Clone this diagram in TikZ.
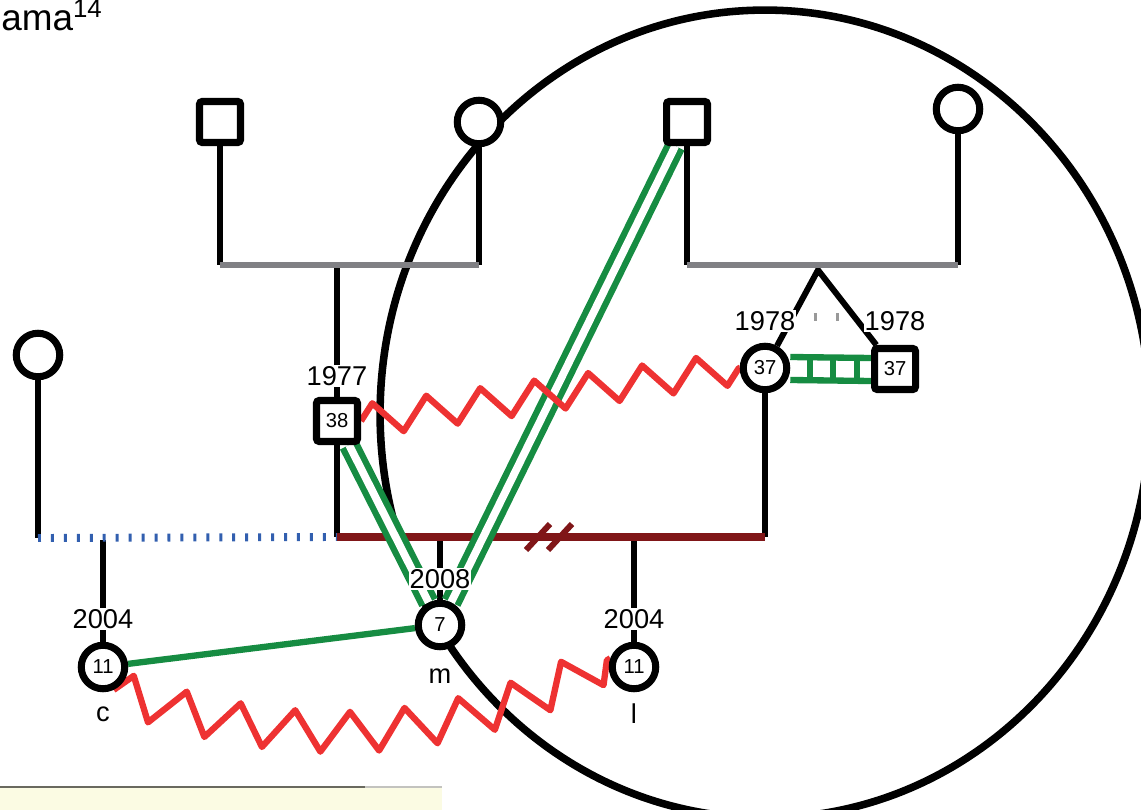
\documentclass[tikz,border=0pt]{standalone}
\usepackage{fontspec}
\setmainfont{Liberation Sans}
\usetikzlibrary{decorations.pathmorphing,calc,backgrounds}
\definecolor{sibgray}{RGB}{128,128,132}
\definecolor{mzgreen}{RGB}{22,140,66}
\definecolor{confred}{RGB}{238,50,50}
\definecolor{unionred}{RGB}{128,22,24}
\definecolor{sepblue}{RGB}{50,95,175}
\definecolor{notebg}{RGB}{251,251,227}
\definecolor{noteline}{RGB}{105,105,95}
\newcommand{\yrfont}{\fontsize{15.5}{17}\selectfont}
\newcommand{\agefont}{\fontsize{11.5}{12}\selectfont}
\tikzset{
  male/.style={draw,line width=4pt,fill=white,minimum size=0.82cm,inner sep=0pt,rounded corners=1.5pt,font=\agefont},
  female/.style={circle,draw,line width=4pt,fill=white,minimum size=0.87cm,inner sep=0pt,font=\agefont},
  yr/.style={fill=white,inner sep=0.5pt,font=\yrfont},
  lbl/.style={inner sep=0pt,font=\yrfont},
  kin/.style={line width=3.4pt},
  sibline/.style={line width=3.6pt,sibgray},
  marline/.style={line width=4pt,unionred},
  friend/.style={line width=3.6pt,mzgreen},
  closeline/.style={friend,double=white,double distance=4.4pt},
  hostile/.style 2 args={line width=3.6pt,confred,line join=round,decorate,decoration={zigzag,amplitude=#1,segment length=#2}},
  sepdots/.style={line width=4.5pt,sepblue,dash pattern=on 1.7pt off 5.67pt},
  twinmark/.style={line width=4.5pt,gray!80,dash pattern=on 1.7pt off 11.3pt}
}
\begin{document}
\begin{tikzpicture}[x=0.02cm,y=-0.02cm]
\useasboundingbox (0,0) rectangle (1141,810);
\clip (0,0) rectangle (1141,810);
% grandparents
\node[male] (pgf) at (220,122) {};
\node[female] (pgm) at (479,122) {};
\node[male] (mgf) at (687,122) {};
\node[female] (mgm) at (958,109) {};
\node[female] (exw) at (38,355) {};
% parents and twin
\node[male] (fa) at (337,421) {38};
\node[female] (mo) at (765,368) {37};
\node[male] (tw) at (895,369) {37};
% children
\node[female] (kc) at (103,667) {11};
\node[female] (km) at (440,625) {7};
\node[female] (kl) at (634,667) {11};
% years and names
\node[yr] (yfa) at (337,376) {1977};
\node[yr] (ymo) at (765,321) {1978};
\node[yr] (ytw) at (895,321) {1978};
\node[yr] (ykc) at (103,619) {2004};
\node[yr] (ykm) at (440,579) {2008};
\node[yr] (ykl) at (634,619) {2004};
\node[lbl] (nc) at (103,714) {c};
\node[lbl] (nm) at (440,676) {m};
\node[lbl] (nl) at (634,714) {l};
\node[anchor=base west,inner sep=0pt,font=\fontsize{21}{22}\selectfont] (cap) at (1,31) {ama\textsuperscript{14}};
% note box
\fill[notebg] (0,787) rectangle (442,812);
\draw[noteline,line width=0.6pt] (0,787) -- (365,787);
\draw[noteline!40,line width=0.6pt] (365,787) -- (442,787);
\coordinate (sibA) at (220,265); \coordinate (sibB) at (479,265); \coordinate (sibAc) at (337,265);
\coordinate (sibC) at (687,265); \coordinate (sibD) at (958,265); \coordinate (twa) at (818,270);
\coordinate (unL) at (337,537); \coordinate (unR) at (765,537);
\coordinate (unm) at (440,537); \coordinate (unl) at (634,537);
\coordinate (exU) at (38,538); \coordinate (exc) at (103,540);
\begin{scope}[on background layer]
\draw[line width=4.3pt] (765,414) ellipse [x radius=7.7cm,y radius=8.08cm];
\draw[kin] (pgf) -- (sibA); \draw[kin] (pgm) -- (sibB); \draw[kin] (sibAc) -- (fa);
\draw[kin] (mgf) -- (sibC); \draw[kin] (mgm) -- (sibD);
\draw[kin] (mo) -- (twa) -- (tw);
\draw[sibline] (sibA) -- (sibB); \draw[sibline] (sibC) -- (sibD);
\draw[twinmark] (813.5,317) -- (840,317);
\draw[kin] (fa) -- (unL); \draw[kin] (mo) -- (unR);
\draw[kin] (unm) -- (km); \draw[kin] (unl) -- (kl);
\draw[kin] (exw) -- (exU); \draw[kin] (exc) -- (kc);
\draw[sepdots] (exU) -- (unL);
\draw[marline] (unL) -- (unR);
\foreach \x in {538,560} \draw[marline,line width=3.4pt] (\x-12,550) -- (\x+12,524);
\draw[closeline] (fa) -- (km); \draw[closeline] (km) -- (mgf);
\draw[friend] (kc) -- (km);
\draw[friend] ($(mo.east)+(0,-11)$) -- ($(tw.west)+(0,-11)$);
\draw[friend] ($(mo.east)+(0,12)$) -- ($(tw.west)+(0,12)$);
\foreach \x in {810,833,857} \draw[friend] (\x,355) -- (\x,382);
\draw[hostile={0.32cm}{1.09cm}] (fa.east) -- (mo.west);
\draw[hostile={0.4cm}{1.135cm}] (kc.-65) .. controls (296,755) and (461,744) .. (kl.160);
\end{scope}
\end{tikzpicture}
\end{document}
